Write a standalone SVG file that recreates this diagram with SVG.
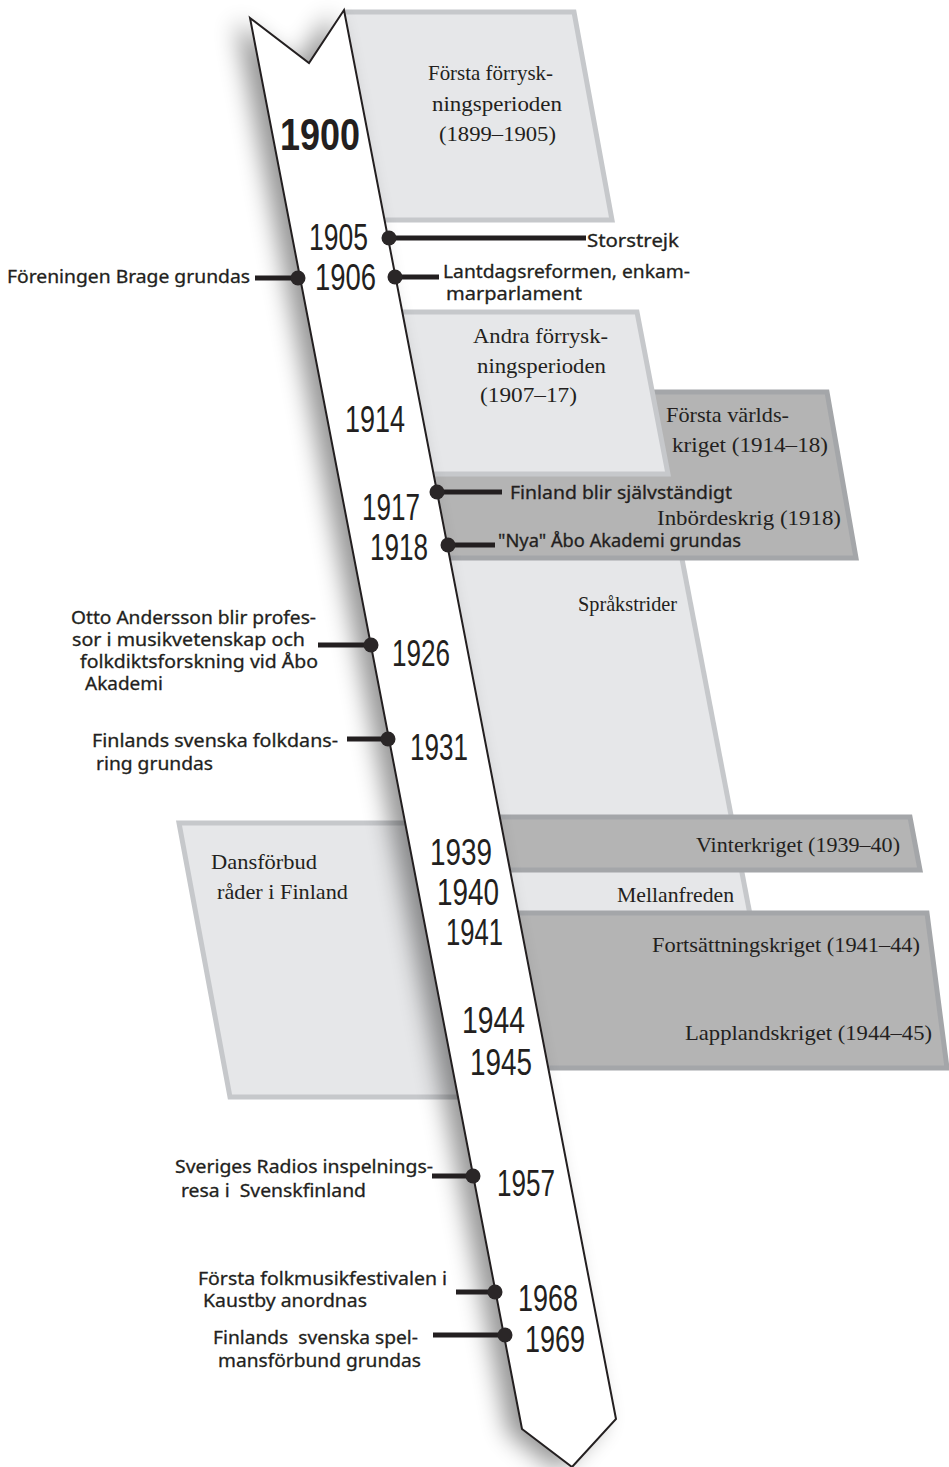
<svg xmlns="http://www.w3.org/2000/svg" width="949" height="1467" viewBox="0 0 949 1467">
<defs>
<style>
.lf{fill:#e6e7e9;stroke:none}
.ls{fill:none;stroke:#c6c8cb;stroke-width:5}
.df{fill:#b4b4b4;stroke:none}
.ds{fill:none;stroke:#a4a6a9;stroke-width:5}
.band{fill:#fff;stroke:#231f20;stroke-width:2;stroke-linejoin:miter}
.con line{stroke:#231f20;stroke-width:5}
.con circle{fill:#2a2627}
.yr{font-family:"Liberation Sans",Arial,sans-serif;font-size:37.5px;fill:#231f20}
.yb{font-family:"Liberation Sans",Arial,sans-serif;font-size:45px;font-weight:bold;fill:#231f20}
.sv{font-family:"Liberation Serif","Times New Roman",serif;font-size:21px;fill:#231f20}
.sn{font-family:"Noto Sans","Open Sans",sans-serif;font-size:18px;fill:#231f20;stroke:#231f20;stroke-width:0.3}
</style>
<filter id="sh" x="-60%" y="-5%" width="220%" height="110%">
<feGaussianBlur stdDeviation="12"/>
</filter>
</defs>

<!-- period boxes -->
<g id="box-sprakstrider">
<polygon class="lf" points="420,470 665,470 752,925 480,925"/>
<path class="ls" d="M665,470 L752,925"/>
</g>
<g id="box-varldskriget">
<polygon class="df" points="400,392 827,392 856,558 440,558"/>
<path class="ds" d="M640,392 H827 L856,558 H448"/>
</g>
<g id="box-andra">
<polygon class="lf" points="380,312 637,312 668,474 410,474"/>
<path class="ls" d="M400,312 H637 L668,474 H431"/>
</g>
<g id="box-forsta">
<polygon class="lf" points="344,12 574,12 612,220 384,220"/>
<path class="ls" d="M344,12 H574 L612,220 H384"/>
</g>
<g id="box-vinterkriget">
<polygon class="df" points="470,817 910,817 920,870 480,870"/>
<path class="ds" d="M495,817 H910 L920,870 H505"/>
</g>
<g id="box-fortsattning">
<polygon class="df" points="490,913 927,913 947,1068 520,1068"/>
<path class="ds" d="M512,913 H927 L947,1068 H543"/>
</g>
<g id="box-dansforbud">
<polygon class="lf" points="179,823 430,823 480,1097 230,1097"/>
<path class="ls" d="M430,823 H179 L230,1097 H480"/>
</g>

<!-- timeline band -->
<g id="band">
<polygon points="250,18 309,63 344,10 616,1419 572,1467 522,1429" transform="translate(-14,4)" fill="#000" opacity="0.42" filter="url(#sh)"/>
<polygon class="band" points="250,18 309,63 344,10 616,1419 572,1467 522,1429"/>
</g>

<!-- connectors -->
<g id="connectors" class="con">
<line x1="389" y1="238" x2="586" y2="238"/><circle cx="389" cy="238" r="7.5"/>
<line x1="255" y1="278" x2="299" y2="278"/><circle cx="298" cy="278" r="7.5"/>
<line x1="395" y1="277" x2="439" y2="277"/><circle cx="395" cy="277" r="7.5"/>
<line x1="437" y1="492" x2="502" y2="492"/><circle cx="437" cy="492" r="7.5"/>
<line x1="448" y1="545" x2="495" y2="545"/><circle cx="448" cy="545" r="7.5"/>
<line x1="318" y1="645" x2="371" y2="645"/><circle cx="371" cy="645" r="7.5"/>
<line x1="347" y1="739" x2="388" y2="739"/><circle cx="388" cy="739" r="7.5"/>
<line x1="432" y1="1176" x2="473" y2="1176"/><circle cx="473" cy="1176" r="7.5"/>
<line x1="456" y1="1292" x2="495" y2="1292"/><circle cx="495" cy="1292" r="7.5"/>
<line x1="433" y1="1335" x2="505" y2="1335"/><circle cx="505" cy="1335" r="7.5"/>
</g>

<!-- period labels -->
<g id="lbl-forsta">
<text class="sv" x="428" y="80" textLength="125" lengthAdjust="spacingAndGlyphs">Första förrysk-</text>
<text class="sv" x="432" y="111" textLength="130" lengthAdjust="spacingAndGlyphs">ningsperioden</text>
<text class="sv" x="439" y="141" textLength="117" lengthAdjust="spacingAndGlyphs">(1899–1905)</text>
</g>
<g id="lbl-andra">
<text class="sv" x="473" y="343" textLength="135" lengthAdjust="spacingAndGlyphs">Andra förrysk-</text>
<text class="sv" x="477" y="373" textLength="129" lengthAdjust="spacingAndGlyphs">ningsperioden</text>
<text class="sv" x="480" y="402" textLength="97" lengthAdjust="spacingAndGlyphs">(1907–17)</text>
</g>
<g id="lbl-varldskriget">
<text class="sv" x="666" y="422" textLength="123" lengthAdjust="spacingAndGlyphs">Första världs-</text>
<text class="sv" x="672" y="452" textLength="156" lengthAdjust="spacingAndGlyphs">kriget (1914–18)</text>
</g>
<g id="lbl-inbordeskrig"><text class="sv" x="657" y="525" textLength="184" lengthAdjust="spacingAndGlyphs">Inbördeskrig (1918)</text></g>
<g id="lbl-sprakstrider"><text class="sv" x="578" y="611" textLength="99" lengthAdjust="spacingAndGlyphs">Språkstrider</text></g>
<g id="lbl-vinterkriget"><text class="sv" x="696" y="852" textLength="204" lengthAdjust="spacingAndGlyphs">Vinterkriget (1939–40)</text></g>
<g id="lbl-mellanfreden"><text class="sv" x="617" y="902" textLength="117" lengthAdjust="spacingAndGlyphs">Mellanfreden</text></g>
<g id="lbl-fortsattning"><text class="sv" x="652" y="952" textLength="268" lengthAdjust="spacingAndGlyphs">Fortsättningskriget (1941–44)</text></g>
<g id="lbl-lappland"><text class="sv" x="685" y="1040" textLength="247" lengthAdjust="spacingAndGlyphs">Lapplandskriget (1944–45)</text></g>
<g id="lbl-dansforbud">
<text class="sv" x="211" y="869" textLength="106" lengthAdjust="spacingAndGlyphs">Dansförbud</text>
<text class="sv" x="217" y="899" textLength="131" lengthAdjust="spacingAndGlyphs">råder i Finland</text>
</g>

<!-- years -->
<g id="years">
<text class="yb" x="280" y="150" textLength="80" lengthAdjust="spacingAndGlyphs">1900</text>
<text class="yr" x="309" y="250" textLength="59" lengthAdjust="spacingAndGlyphs">1905</text>
<text class="yr" x="315" y="290" textLength="61" lengthAdjust="spacingAndGlyphs">1906</text>
<text class="yr" x="345" y="432" textLength="60" lengthAdjust="spacingAndGlyphs">1914</text>
<text class="yr" x="362" y="520" textLength="58" lengthAdjust="spacingAndGlyphs">1917</text>
<text class="yr" x="370" y="560" textLength="58" lengthAdjust="spacingAndGlyphs">1918</text>
<text class="yr" x="392" y="666" textLength="58" lengthAdjust="spacingAndGlyphs">1926</text>
<text class="yr" x="410" y="760" textLength="58" lengthAdjust="spacingAndGlyphs">1931</text>
<text class="yr" x="430" y="865" textLength="62" lengthAdjust="spacingAndGlyphs">1939</text>
<text class="yr" x="437" y="905" textLength="62" lengthAdjust="spacingAndGlyphs">1940</text>
<text class="yr" x="446" y="945" textLength="57" lengthAdjust="spacingAndGlyphs">1941</text>
<text class="yr" x="462" y="1033" textLength="63" lengthAdjust="spacingAndGlyphs">1944</text>
<text class="yr" x="470" y="1075" textLength="62" lengthAdjust="spacingAndGlyphs">1945</text>
<text class="yr" x="497" y="1196" textLength="58" lengthAdjust="spacingAndGlyphs">1957</text>
<text class="yr" x="518" y="1311" textLength="60" lengthAdjust="spacingAndGlyphs">1968</text>
<text class="yr" x="525" y="1352" textLength="60" lengthAdjust="spacingAndGlyphs">1969</text>
</g>

<!-- event labels -->
<g id="ev-storstrejk"><text class="sn" x="587" y="247" textLength="92" lengthAdjust="spacingAndGlyphs">Storstrejk</text></g>
<g id="ev-brage"><text class="sn" x="7" y="283" textLength="243" lengthAdjust="spacingAndGlyphs">Föreningen Brage grundas</text></g>
<g id="ev-lantdag">
<text class="sn" x="443" y="278" textLength="247" lengthAdjust="spacingAndGlyphs">Lantdagsreformen, enkam-</text>
<text class="sn" x="446" y="300" textLength="136" lengthAdjust="spacingAndGlyphs">marparlament</text>
</g>
<g id="ev-sjalvstandigt"><text class="sn" x="510" y="499" textLength="222" lengthAdjust="spacingAndGlyphs">Finland blir självständigt</text></g>
<g id="ev-abo"><text class="sn" x="498" y="547" textLength="243" lengthAdjust="spacingAndGlyphs">"Nya" Åbo Akademi grundas</text></g>
<g id="ev-otto">
<text class="sn" x="71" y="624" textLength="245" lengthAdjust="spacingAndGlyphs">Otto Andersson blir profes-</text>
<text class="sn" x="72" y="646" textLength="233" lengthAdjust="spacingAndGlyphs">sor i musikvetenskap och</text>
<text class="sn" x="80" y="668" textLength="238" lengthAdjust="spacingAndGlyphs">folkdiktsforskning vid Åbo</text>
<text class="sn" x="85" y="690" textLength="78" lengthAdjust="spacingAndGlyphs">Akademi</text>
</g>
<g id="ev-folkdansring">
<text class="sn" x="92" y="747" textLength="246" lengthAdjust="spacingAndGlyphs">Finlands svenska folkdans-</text>
<text class="sn" x="96" y="770" textLength="117" lengthAdjust="spacingAndGlyphs">ring grundas</text>
</g>
<g id="ev-radio">
<text class="sn" x="175" y="1173" textLength="258" lengthAdjust="spacingAndGlyphs">Sveriges Radios inspelnings-</text>
<text class="sn" x="181" y="1197" textLength="185" lengthAdjust="spacingAndGlyphs" xml:space="preserve">resa i  Svenskfinland</text>
</g>
<g id="ev-kaustby">
<text class="sn" x="198" y="1285" textLength="249" lengthAdjust="spacingAndGlyphs">Första folkmusikfestivalen i</text>
<text class="sn" x="203" y="1307" textLength="164" lengthAdjust="spacingAndGlyphs">Kaustby anordnas</text>
</g>
<g id="ev-spelman">
<text class="sn" x="213" y="1344" textLength="205" lengthAdjust="spacingAndGlyphs" xml:space="preserve">Finlands  svenska spel-</text>
<text class="sn" x="218" y="1367" textLength="203" lengthAdjust="spacingAndGlyphs">mansförbund grundas</text>
</g>
</svg>
